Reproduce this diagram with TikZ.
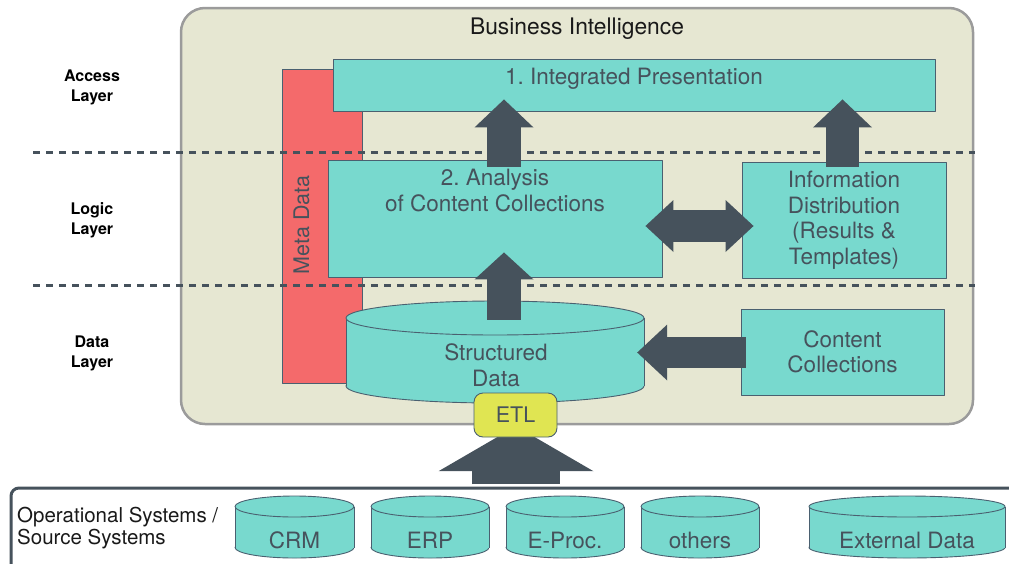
\documentclass[tikz,border=0pt]{standalone}
\usepackage{fontspec}
\setmainfont{TeX Gyre Heros}
\frenchspacing
\usetikzlibrary{arrows.meta,calc}
\definecolor{slate}{HTML}{46525C}
\definecolor{boxline}{HTML}{4A6070}
\definecolor{bicyan}{HTML}{78D9CE}
\definecolor{bifill}{HTML}{E6E7D2}
\definecolor{biframe}{HTML}{9B9B9B}
\definecolor{metared}{HTML}{F46A6B}
\definecolor{etlyellow}{HTML}{E0E552}
\tikzset{
  every picture/.style={line join=round},
  bibox/.style={draw=biframe, fill=bifill, line width=2.5pt, rounded corners=24pt, inner sep=0pt},
  boxtext/.style={text=slate, font=\fontsize{22.5}{25.5}\selectfont, align=center, inner sep=0pt},
  box/.style={boxtext, draw=boxline, fill=bicyan, line width=0.9pt},
  layertext/.style={font=\fontsize{16}{20}\selectfont\bfseries, align=center, inner sep=0pt},
  layerline/.style={draw=slate, line width=3pt, dash pattern=on 7pt off 6pt},
  cylline/.style={draw=boxline, line width=0.9pt},
  % fat arrows: shaft width, head width, head length
  blockarrow/.style n args={3}{draw=slate, line width=#1,
    arrows={-Triangle[width=#2,length=#3,line width=0pt]}},
  dblarrow/.style n args={3}{draw=slate, line width=#1,
    arrows={Triangle[width=#2,length=#3,line width=0pt]-Triangle[width=#2,length=#3,line width=0pt]}},
}
% cylinder: x centre, top y, bottom y, x radius, y radius
\newcommand{\dbcylinder}[5]{%
  \filldraw[cylline, fill=bicyan] (#1,#3) ellipse[x radius=#4, y radius=#5];
  \fill[bicyan] (#1-#4,#2) rectangle (#1+#4,#3);
  \draw[cylline] (#1-#4,#2) -- (#1-#4,#3) (#1+#4,#2) -- (#1+#4,#3);
  \filldraw[cylline, fill=bicyan] (#1,#2) ellipse[x radius=#4, y radius=#5];
}
\begin{document}
\begin{tikzpicture}[x=1pt,y=-1pt]
\useasboundingbox (0,0) rectangle (1009,563);
% BI frame
\node[bibox, minimum width=792pt, minimum height=416pt] (bi) at (577,216) {};
\node[font=\fontsize{22.8}{26}\selectfont, text=black!90, inner sep=0pt] (bititle) at (577,29) {Business Intelligence};
\node[draw=boxline, fill=metared, line width=0.9pt, minimum width=80pt, minimum height=314pt, inner sep=0pt] (meta) at (322,226) {};
\node[boxtext, rotate=90, font=\fontsize{21.5}{25}\selectfont] (metatext) at ($(meta.west)+(20,-1)$) {Meta Data};
% layer borders
\draw[layerline] (33,152) -- (975,152);
\draw[layerline] (33,285) -- (975,285);
\node[layertext] (access) at (92,87) {Access\\Layer};
\node[layertext] (logic) at (92,220) {Logic\\Layer};
\node[layertext] (datal) at (92,353) {Data\\Layer};
% boxes
\node[box, minimum width=602pt, minimum height=52pt] (pres) at (634,85) {};
\node[boxtext] (prestext) at (634,79) {1. Integrated Presentation};
\node[box, minimum width=334pt, minimum height=117pt] (ana) at (495,218.5) {};
\node[boxtext] (anatext) at (495,190.5) {2. Analysis\\of Content Collections};
\node[box, minimum width=204pt, minimum height=116pt] (info) at (844,220) {Information\\Distribution\\(Results \&\\Templates)};
\node[box, minimum width=203pt, minimum height=86pt] (cc) at (842.5,352) {Content\\Collections};
\dbcylinder{495}{318}{386}{149}{17}
\node[minimum width=298pt, minimum height=102pt, inner sep=0pt] (sd) at (495,352) {};
\node[boxtext] (sdtext) at (496,365.5) {Structured\\Data};
% arrows
\draw[blockarrow={34pt}{59pt}{28pt}] ($(ana.north)+(9,7)$) -- ($(ana.north |- pres.south)+(9,-12)$);
\draw[blockarrow={33pt}{59pt}{28pt}] ($(info.north)+(-1.5,5)$) -- ($(info.north |- pres.south)+(-1.5,-12)$);
\draw[blockarrow={34pt}{59pt}{27pt}] ($(sd.north)+(9,19)$) -- ($(ana.south)+(9,-25)$);
\draw[blockarrow={31pt}{56pt}{30pt}] ($(cc.west)+(5,0.5)$) -- ($(sd.east)+(-7,0.5)$);
\draw[dblarrow={32pt}{52pt}{28pt}] ($(ana.east)+(-17,7.5)$) -- ($(info.west)+(12,6)$);
\coordinate (srcin) at (516,484);
\draw[blockarrow={88pt}{155pt}{45pt}] (srcin) -- ($(sd.south)+(21,23)$);
\node[box, fill=etlyellow, rounded corners=9pt, minimum width=83pt, minimum height=44pt, font=\fontsize{21.5}{25}\selectfont] (etl) at (515.5,415) {ETL};
% source systems
\draw[slate, line width=3pt, rounded corners=8pt] (1015,488) -- (11,488) -- (11,570);
\node[boxtext, text=black!90, align=left, anchor=west, font=\fontsize{20.5}{22}\selectfont] (ops) at (17,528) {Operational Systems /\\Source Systems};
\foreach \cx/\rx/\name [count=\i] in {294.5/59.5/CRM, 430/59/ERP, 565/59/E-Proc., 700/59/others, 907/98/External Data}{
  \dbcylinder{\cx}{506.5}{547.5}{\rx}{10.5}
  \node[boxtext] (src\i) at (\cx,540) {\name};
}
\end{tikzpicture}
\end{document}
